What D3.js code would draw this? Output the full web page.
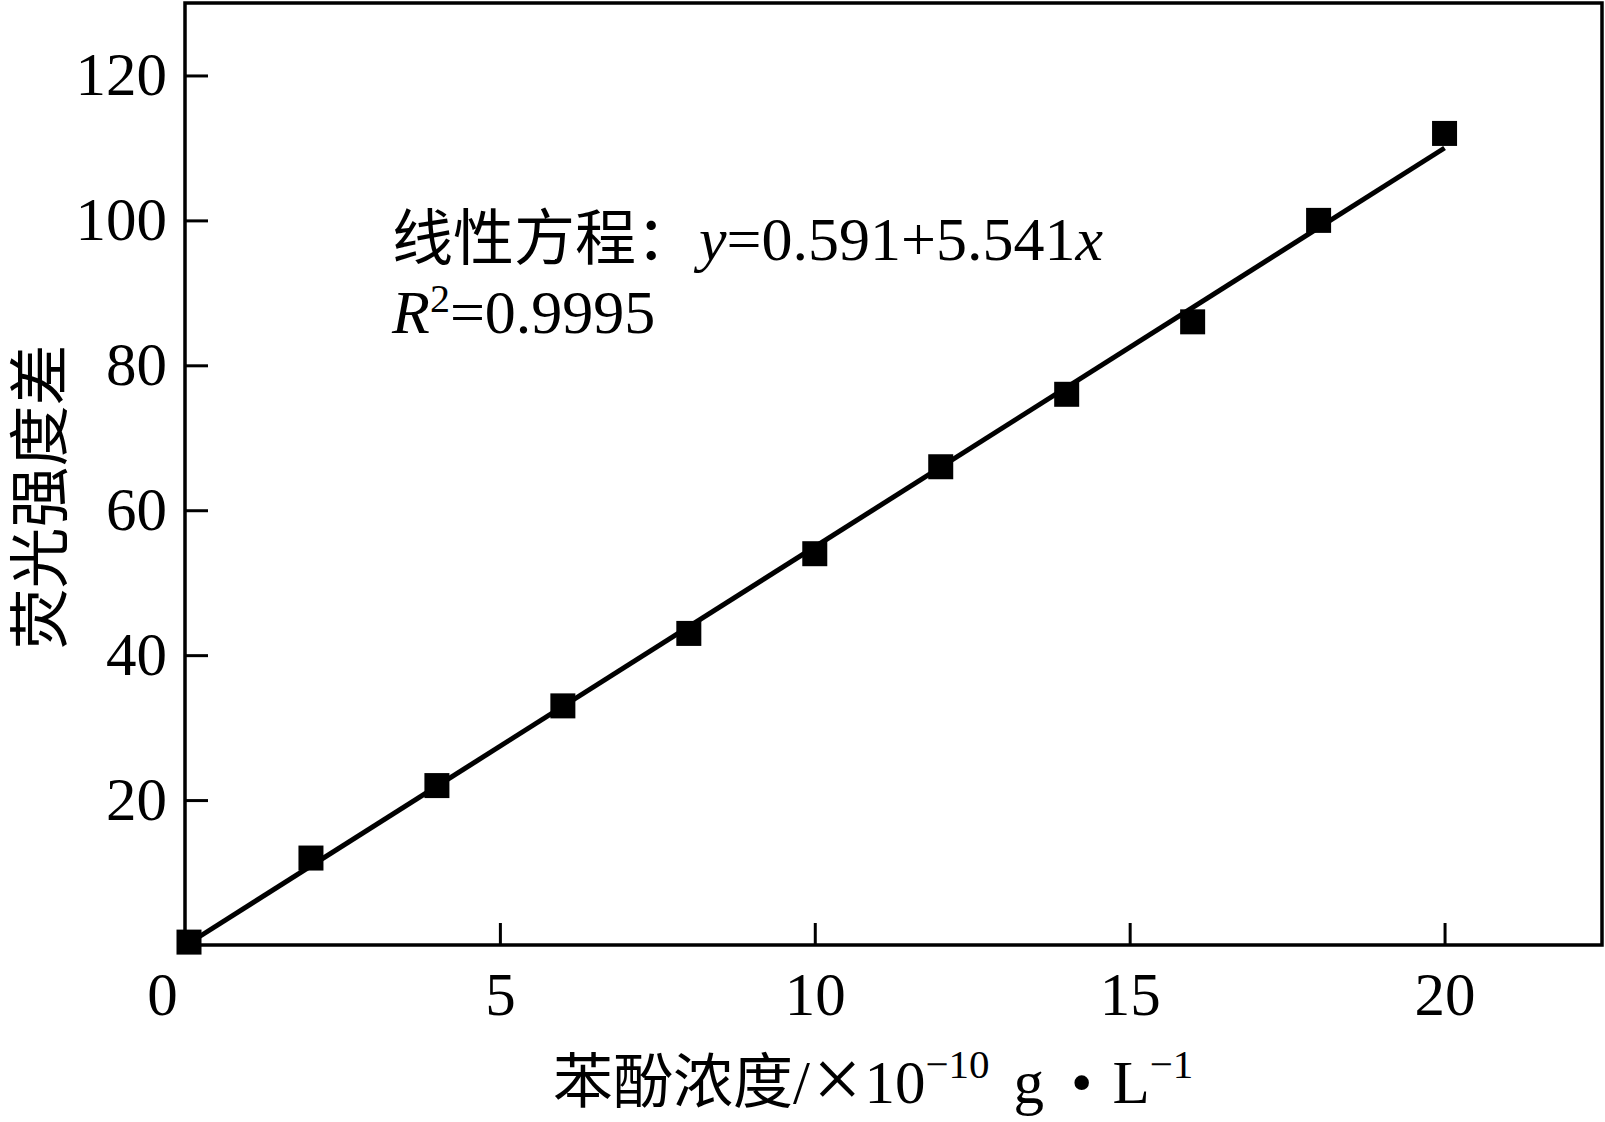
<!DOCTYPE html>
<html>
<head>
<meta charset="utf-8">
<script src="https://cdn.jsdelivr.net/npm/d3@7.9.0/dist/d3.min.js"></script>
<style>
    body { margin: 0; background: #fff; }
    text { fill: #000; }
    .serif { font-family: "Liberation Serif", "Times New Roman", "Noto Sans CJK SC", serif; }
    .cjk { font-family: "Noto Sans CJK SC", sans-serif; }
</style>
</head>
<body>
<svg id="chart" width="1605" height="1122"></svg>
<script>
// concentration (x 10^-10 g/L) and fluorescence difference
const concentration = [0, 2, 4, 6, 8, 10, 12, 14, 16, 18, 20];
const intensity = [0.4, 12, 22, 33, 43, 54, 66, 76, 86, 100, 112];
const xTicks = [0, 5, 10, 15, 20];
const yTicks = [20, 40, 60, 80, 100, 120];

const width = 1605, height = 1122;
const margin = { top: 3, right: 3, bottom: 177, left: 185 };

const svg = d3.select('#chart');

const x = d3.scaleLinear()
    .domain([0, 22.5])
    .range([margin.left, width - margin.right]);
const y = d3.scaleLinear()
    .domain([0, 130])
    .range([height - margin.bottom, margin.top]);

// axes with inward ticks
const xAxis = svg.append('g')
    .attr('transform', `translate(0,${y(0)})`)
    .call(d3.axisBottom(x).tickValues(xTicks).tickSize(-22).tickPadding(27));
const yAxis = svg.append('g')
    .attr('transform', `translate(${x(0)},0)`)
    .call(d3.axisLeft(y).tickValues(yTicks).tickSize(-23).tickPadding(18));

[xAxis, yAxis].forEach((g) => {
    g.select('.domain').remove();
    g.selectAll('line').attr('stroke', '#000').attr('stroke-width', 3);
    g.selectAll('text')
        .attr('class', 'serif')
        .attr('font-size', 61)
        .attr('fill', '#000');
});
// origin label sits to the left of the corner, no tick mark there
xAxis.selectAll('.tick')
    .filter((d) => d === 0)
    .call((t) => t.select('line').remove())
    .select('text')
    .attr('dx', -23);

// frame
svg.append('rect')
    .attr('x', x(0))
    .attr('y', y(130))
    .attr('width', x(22.5) - x(0))
    .attr('height', y(0) - y(130))
    .attr('fill', 'none')
    .attr('stroke', '#000')
    .attr('stroke-width', 3.5);

// least squares fit of the points
const mx = d3.mean(concentration);
const my = d3.mean(intensity);
const sxy = d3.sum(concentration, (c, i) => (c - mx) * (intensity[i] - my));
const sxx = d3.sum(concentration, (c) => (c - mx) ** 2);
const slope = sxy / sxx;
const intercept = my - slope * mx;
const fitX = [0.2, 20];

svg.append('path')
    .datum(fitX)
    .attr('fill', 'none')
    .attr('stroke', '#000')
    .attr('stroke-width', 5)
    .attr('d', d3.line()
        .x((d) => x(d))
        .y((d) => y(intercept + slope * d)));

const size = 25;
svg.selectAll('rect.pt')
    .data(concentration)
    .enter()
    .append('rect')
    .attr('class', 'pt')
    .attr('x', (d) => x(d) - size / 2 + (d === 0 ? 4 : 0))
    .attr('y', (d, i) => y(intensity[i]) - size / 2)
    .attr('width', size)
    .attr('height', size)
    .attr('fill', '#000');

// equation annotation
const eq = svg.append('text')
    .attr('class', 'serif')
    .attr('x', 392)
    .attr('y', 260)
    .attr('font-size', 62);
eq.append('tspan').attr('class', 'cjk').attr('font-size', 61).text('线性方程：');
eq.append('tspan').attr('font-style', 'italic').attr('dx', 2).text('y');
eq.append('tspan').text('=0.591+5.541');
eq.append('tspan').attr('font-style', 'italic').text('x');

const r2 = svg.append('text')
    .attr('class', 'serif')
    .attr('x', 392)
    .attr('y', 333)
    .attr('font-size', 62);
r2.append('tspan').attr('font-style', 'italic').text('R');
r2.append('tspan').attr('font-size', 40).attr('dy', -21).text('2');
r2.append('tspan').attr('dy', 21).text('=0.9995');

// axis titles
const xt = svg.append('text')
    .attr('class', 'serif')
    .attr('x', 553)
    .attr('y', 1103)
    .attr('font-size', 61);
xt.append('tspan').attr('class', 'cjk').attr('font-size', 60).text('苯酚浓度');
xt.append('tspan').text('/');
xt.append('tspan').attr('font-size', 86).attr('dx', 3).attr('dy', 5).text('×');
xt.append('tspan').attr('dx', 3).attr('dy', -5).text('10');
xt.append('tspan').attr('font-size', 41).attr('dy', -25).text('−10');
xt.append('tspan').attr('dx', 24).attr('dy', 25).text('g');
xt.append('tspan').attr('dx', 27).text('•');
xt.append('tspan').attr('dx', 20).text('L');
xt.append('tspan').attr('font-size', 41).attr('dy', -25).text('−1');

svg.append('text')
    .attr('class', 'cjk')
    .attr('transform', 'translate(62,497) rotate(-90)')
    .attr('text-anchor', 'middle')
    .attr('font-size', 61)
    .text('荧光强度差');
</script>
</body>
</html>
